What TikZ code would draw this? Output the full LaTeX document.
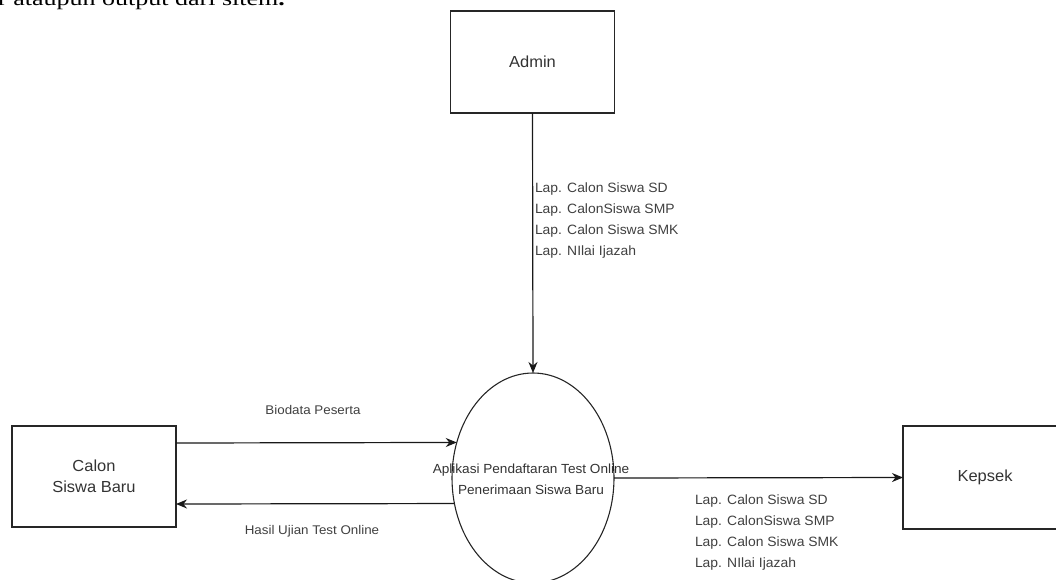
\documentclass[tikz,border=0pt]{standalone}
\usepackage{fontspec}
\setmainfont{Liberation Sans}
\newfontfamily\lab[FakeStretch=1.03]{Liberation Sans}
\newfontfamily\labw[FakeStretch=1.06]{Liberation Sans}
\newfontfamily\topserif[FakeStretch=1.3]{Liberation Serif}
\usetikzlibrary{shapes.geometric,arrows.meta}
\begin{document}
\begin{tikzpicture}[x=1pt,y=-1pt,
  ent/.style={draw=black!85,line width=1.2pt,inner sep=0,outer sep=0,
    minimum width=164pt,minimum height=102pt,align=center,
    font=\lab\fontsize{16}{21}\selectfont,text=black!80},
  proc/.style={ellipse,draw=black!85,line width=1.1pt,inner sep=0,outer sep=0,
    minimum width=162pt,minimum height=210pt},
  proctext/.style={inner sep=0,align=center,
    font=\lab\fontsize{13.2}{21}\selectfont,text=black!80},
  flow/.style={draw=black!90,line width=1.2pt,-{Stealth[length=11pt,width=9pt,inset=3.5pt]}},
  lbl/.style={inner sep=0,outer sep=0,align=left,text=black!75,
    font=\lab\fontsize{13.5}{20.8}\selectfont},
]
\useasboundingbox (0,0) rectangle (1056,579);
\begin{scope}
\clip (0,0) rectangle (1056,579);
\node[anchor=base west,inner sep=0,font=\topserif\fontsize{20}{24}\selectfont] (toptext) at (-2,5.5) {r ataupun output dari sitem\textbf{.}};

\node[ent] (admin) at (532.5,62) {Admin};
\node[ent,minimum height=101pt] (calon) at (94,476.5) {Calon\\Siswa Baru};
\node[ent,minimum height=103pt] (kepsek) at (985,477.5) {Kepsek};
\node[proc] (app) at (533,478) {};
\node[proctext] (apptext) at (531,479) {Aplikasi Pendaftaran Test Online\\Penerimaan Siswa Baru};

\draw[flow] (admin.south) -- (app.north);
\coordinate (bioS) at (calon.east |- 0,443);
\draw[flow] (bioS) -- (app.155.4);
\coordinate (hasE) at (calon.east |- 0,504);
\draw[flow] (app.198.3) -- (hasE);
\draw[flow] (app.east) -- (kepsek.west);

\node[lbl,anchor=north west] (lblA) at (535,183) {Lap. Calon Siswa SD\\Lap. CalonSiswa SMP\\Lap. Calon Siswa SMK\\Lap. NIlai Ijazah};
\node[lbl,anchor=north west] (lblK) at (695,495) {Lap. Calon Siswa SD\\Lap. CalonSiswa SMP\\Lap. Calon Siswa SMK\\Lap. NIlai Ijazah};
\node[lbl,font=\labw\fontsize{12.6}{14}\selectfont] (lblB) at (313,410) {Biodata Peserta};
\node[lbl,font=\labw\fontsize{12.6}{14}\selectfont] (lblH) at (312,531) {Hasil Ujian Test Online};
\end{scope}
\end{tikzpicture}
\end{document}
